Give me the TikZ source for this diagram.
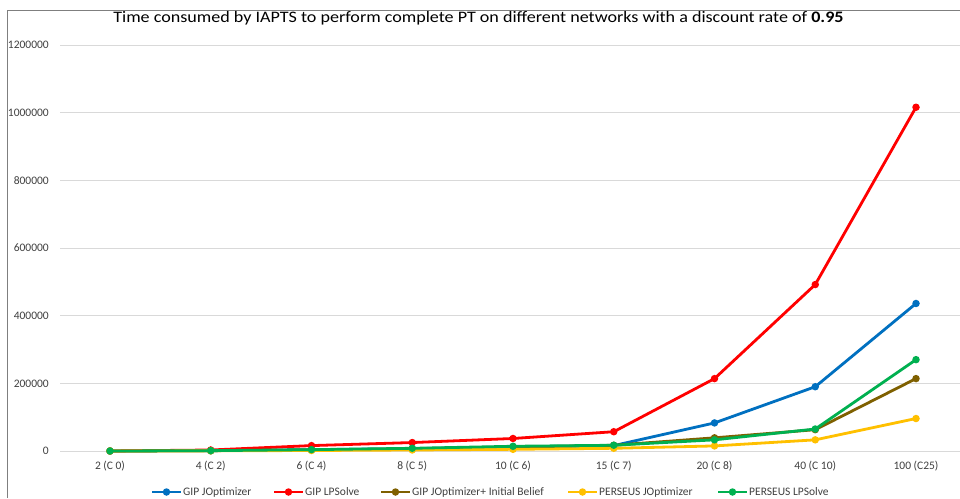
\documentclass[tikz,border=0pt]{standalone}
\usepackage{fontspec}
\setmainfont{Carlito}
\newfontfamily\titlefamily[FakeStretch=1.13]{Carlito}
\definecolor{sBlue}{HTML}{0070C0}
\definecolor{sRed}{HTML}{FF0000}
\definecolor{sBrown}{HTML}{7F6000}
\definecolor{sGold}{HTML}{FFC000}
\definecolor{sGreen}{HTML}{00B050}
\definecolor{gridgray}{HTML}{D9D9D9}
\definecolor{framegray}{HTML}{7F7F7F}
\definecolor{labelgray}{HTML}{404040}
\tikzset{
  gridline/.style={gridgray, line width=0.9pt},
  framestroke/.style={framegray, line width=1pt},
  serieslink/.style={line width=2.8pt, line join=round, line cap=round},
  ticklabel/.style={text=labelgray, font=\fontsize{11.5}{13}\selectfont, inner sep=0pt},
  legendtext/.style={text=labelgray, font=\fontsize{11.5}{13}\selectfont, inner sep=0pt, anchor=west},
  titletext/.style={text=black, font=\titlefamily\fontsize{16}{18}\selectfont, inner sep=0pt},
  datadot/.style={circle, inner sep=0pt, minimum size=7.5pt}
}
% one data series: name, colour, values in thousands
\newcommand{\plotseries}[3]{%
  \foreach \v [count=\i] in {#3} {
    \coordinate (#1\i) at ({110+(\i-1)*100.75},{451-0.338333*\v});
  }
  \draw[serieslink, #2] (#11) -- (#12) -- (#13) -- (#14) -- (#15) -- (#16) -- (#17) -- (#18) -- (#19);
  \foreach \i in {1,...,9} { \node[datadot, fill=#2] at (#1\i) {}; }
}
% one legend key: name, colour, left end of line, label
\newcommand{\legendkey}[4]{%
  \coordinate (#1a) at (#3,492);
  \coordinate (#1b) at ({#3+29},492);
  \draw[serieslink, line cap=butt, #2] (#1a) -- (#1b);
  \node[datadot, fill=#2] (#1dot) at ({#3+14.5},492) {};
  \node[legendtext] (#1text) at ({#3+31},492) {#4};
}
\begin{document}
\begin{tikzpicture}[x=1pt, y=-1pt]
\useasboundingbox (0,0) rectangle (960,498);
\fill[white] (0,0) rectangle (960,498);

% chart frame
\draw[framestroke] (7,498) -- (7,10) -- (960,10);

% title
\node[titletext] (title) at (478.5,18.5) {Time consumed by IAPTS to perform complete PT on different networks with a discount rate of \textbf{0.95}};

% horizontal grid and value axis labels
\foreach \val [count=\k from 0] in {0,200000,400000,600000,800000,1000000,1200000} {
  \draw[gridline] (60,{451-\k*67.667}) -- (960,{451-\k*67.667});
  \node[ticklabel, anchor=east] (ylab\k) at (49,{451-\k*67.667}) {\val};
}

% category labels
\foreach \lab [count=\i] in {2 (C 0),4 (C 2),6 (C 4),8 (C 5),10 (C 6),15 (C 7),20 (C 8),40 (C 10),100 (C25)} {
  \node[ticklabel] (xlab\i) at ({110+(\i-1)*100.75},466) {\lab};
}

% data series
\plotseries{blue}{sBlue}{0,1,4,7,12,16,83,190,436}
\plotseries{red}{sRed}{0,3,16,25,37,57,214,492,1016}
\plotseries{brown}{sBrown}{0,1,3,6,11,17,39,63,214}
\plotseries{gold}{sGold}{0,0.5,1.5,3,5,8,15,33,96}
\plotseries{green}{sGreen}{0,1,4,8,14,17,33,65,270}

% legend
\legendkey{lgA}{sBlue}{152}{GIP JOptimizer}
\legendkey{lgB}{sRed}{274}{GIP LPSolve}
\legendkey{lgC}{sBrown}{381}{GIP JOptimizer+ Initial Belief}
\legendkey{lgD}{sGold}{568}{PERSEUS JOptimizer}
\legendkey{lgE}{sGreen}{718}{PERSEUS LPSolve}
\end{tikzpicture}
\end{document}
